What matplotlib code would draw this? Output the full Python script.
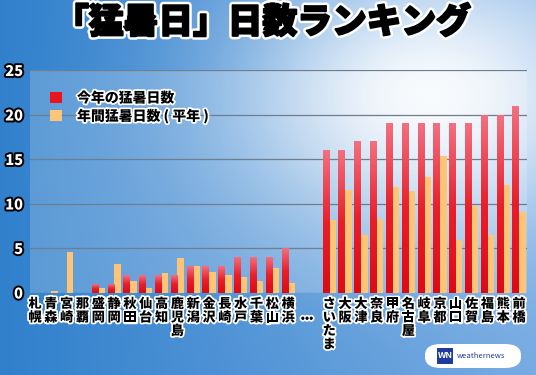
import numpy as np
import matplotlib
matplotlib.use("Agg")
import matplotlib.pyplot as plt
import matplotlib.patheffects as pe
from matplotlib.patches import FancyBboxPatch, Rectangle
from matplotlib.colors import LinearSegmentedColormap

plt.rcParams['font.family'] = ['Noto Sans CJK JP', 'DejaVu Sans']

# data
cities_low = ['札幌', '青森', '宮崎', '那覇', '盛岡', '静岡', '秋田', '仙台', '高知',
              '鹿児島', '新潟', '金沢', '長崎', '水戸', '千葉', '松山', '横浜']
this_year_low = [0, 0, 0, 0, 1, 1, 2, 2, 2, 2, 3, 3, 3, 4, 4, 4, 5]
normal_low = [0, 0.2, 4.5, 0, 0.5, 3.2, 1.3, 0.5, 2.2, 3.9, 3.0, 2.3, 2.0, 1.7, 1.3, 2.7, 1.1]

cities_high = ['さいたま', '大阪', '大津', '奈良', '甲府', '名古屋', '岐阜', '京都', '山口',
               '佐賀', '福島', '熊本', '前橋']
this_year_high = [16, 16, 17, 17, 19, 19, 19, 19, 19, 19, 20, 20, 21]
normal_high = [8.2, 11.5, 6.5, 8.3, 11.9, 11.4, 13.0, 15.3, 5.9, 9.7, 6.5, 12.1, 9.1]

cities = cities_low + cities_high
this_year = this_year_low + this_year_high
normal = normal_low + normal_high

x = np.concatenate([np.arange(len(cities_low)), np.arange(len(cities_high)) + len(cities_low) + 1.6])
dots_x = len(cities_low) + 0.2

fig = plt.figure(figsize=(5.36, 3.75), dpi=100)

# sky background
H, W = 375, 536
yy, xx = np.mgrid[0:H, 0:W]
t = (xx / W)[..., None]
left = np.array([48, 128, 204]) / 255
right = np.array([118, 170, 226]) / 255
base = left * (1 - t) + right * t
g = np.exp(-((xx - 430) ** 2 / (2 * 135 ** 2) + (yy - 95) ** 2 / (2 * 100 ** 2)))[..., None]
bg = base * (1 - 0.95 * g) + 0.95 * g
bax = fig.add_axes([0, 0, 1, 1], zorder=0)
bax.imshow(bg, aspect='auto', extent=[0, W, H, 0])
bax.set_xlim(0, W)
bax.set_ylim(H, 0)
bax.axis('off')

ax = fig.add_axes([30 / 536, 1 - 292.5 / 375, 497 / 536, 222.5 / 375], zorder=1)
ax.set_facecolor((1, 1, 1, 0.2))
w = 0.42
red_bars = ax.bar(x - w / 2, this_year, w, color='#e8141e', label='今年の猛暑日数', zorder=3)
ax.bar(x + w / 2, normal, w, color='#ffc576', label='年間猛暑日数 ( 平年 )', zorder=3)

# vertical gradient on the red bars
red_cmap = LinearSegmentedColormap.from_list('red_grad', ['#dc0a14', '#e8202c', '#f27080'])
grad = np.linspace(0, 1, 128)[:, None]
for p in red_bars.patches:
    h = p.get_height()
    if h <= 0:
        continue
    im = ax.imshow(grad, cmap=red_cmap, aspect='auto', origin='lower', zorder=3.5,
                   extent=[p.get_x(), p.get_x() + p.get_width(), 0, h])
    im.set_clip_path(p)

ax.set_xlim(-0.32, x[-1] + 0.5)
ax.set_ylim(0, 25)
ax.set_yticks([0, 5, 10, 15, 20, 25])
ax.set_xticks([])
for s in ax.spines.values():
    s.set_visible(False)
ax.grid(axis='y', color='#6f7d8c', linewidth=0.9, zorder=1)
ax.tick_params(axis='y', length=0, pad=5, labelsize=10.5, labelcolor='white')
outline = [pe.withStroke(linewidth=2.8, foreground='black')]
for lbl in ax.get_yticklabels():
    lbl.set_fontweight('heavy')
    lbl.set_path_effects(outline)

white_edge = [pe.withStroke(linewidth=2.5, foreground='white')]
tr = ax.get_xaxis_transform()
for xi, name in zip(x, cities):
    ax.text(xi, -0.02, '\n'.join(name), transform=tr, ha='center', va='top',
            fontsize=9.5, fontweight='heavy', linespacing=0.95, color='black',
            path_effects=white_edge, clip_on=False)
ax.text(dots_x, -0.115, '•••', transform=tr, ha='center', va='center', fontsize=8,
        fontweight='bold', color='black', path_effects=white_edge, clip_on=False)

leg = ax.legend(loc='upper left', bbox_to_anchor=(0.015, 0.96), frameon=False,
                handlelength=0.85, handleheight=0.85, handletextpad=1.1,
                labelspacing=0.25, prop={'size': 10, 'weight': 'heavy'})
for txt in leg.get_texts():
    txt.set_path_effects(white_edge)

# heavy title: white halo, then a thin black stroke to thicken the glyphs
fig.text(0.49, 0.94, '「猛暑日」日数ランキング', ha='center', va='center', fontsize=25,
         fontweight='black', color='black',
         path_effects=[pe.Stroke(linewidth=5, foreground='white'),
                       pe.Stroke(linewidth=1.4, foreground='black'),
                       pe.Normal()])

# logo
pill = FancyBboxPatch((425 / W, 1 - 368 / H), 96 / W, 24 / H,
                      boxstyle='round,pad=0,rounding_size=0.03', transform=fig.transFigure,
                      facecolor='white', edgecolor='none', zorder=2)
fig.patches.append(pill)
fig.patches.append(Rectangle((437 / W, 1 - 364 / H), 16 / W, 16 / H, transform=fig.transFigure,
                             facecolor='#1f3c9c', edgecolor='none', zorder=3))
fig.text(445 / W, 1 - 356 / H, 'WN', ha='center', va='center', fontsize=6.5,
         fontweight='bold', style='italic', color='white', zorder=4)
fig.text(457 / W, 1 - 356 / H, 'weathernews', ha='left', va='center', fontsize=5.5,
         style='italic', color='#1f3c9c', zorder=4)

fig.savefig('out.png', dpi=100)
